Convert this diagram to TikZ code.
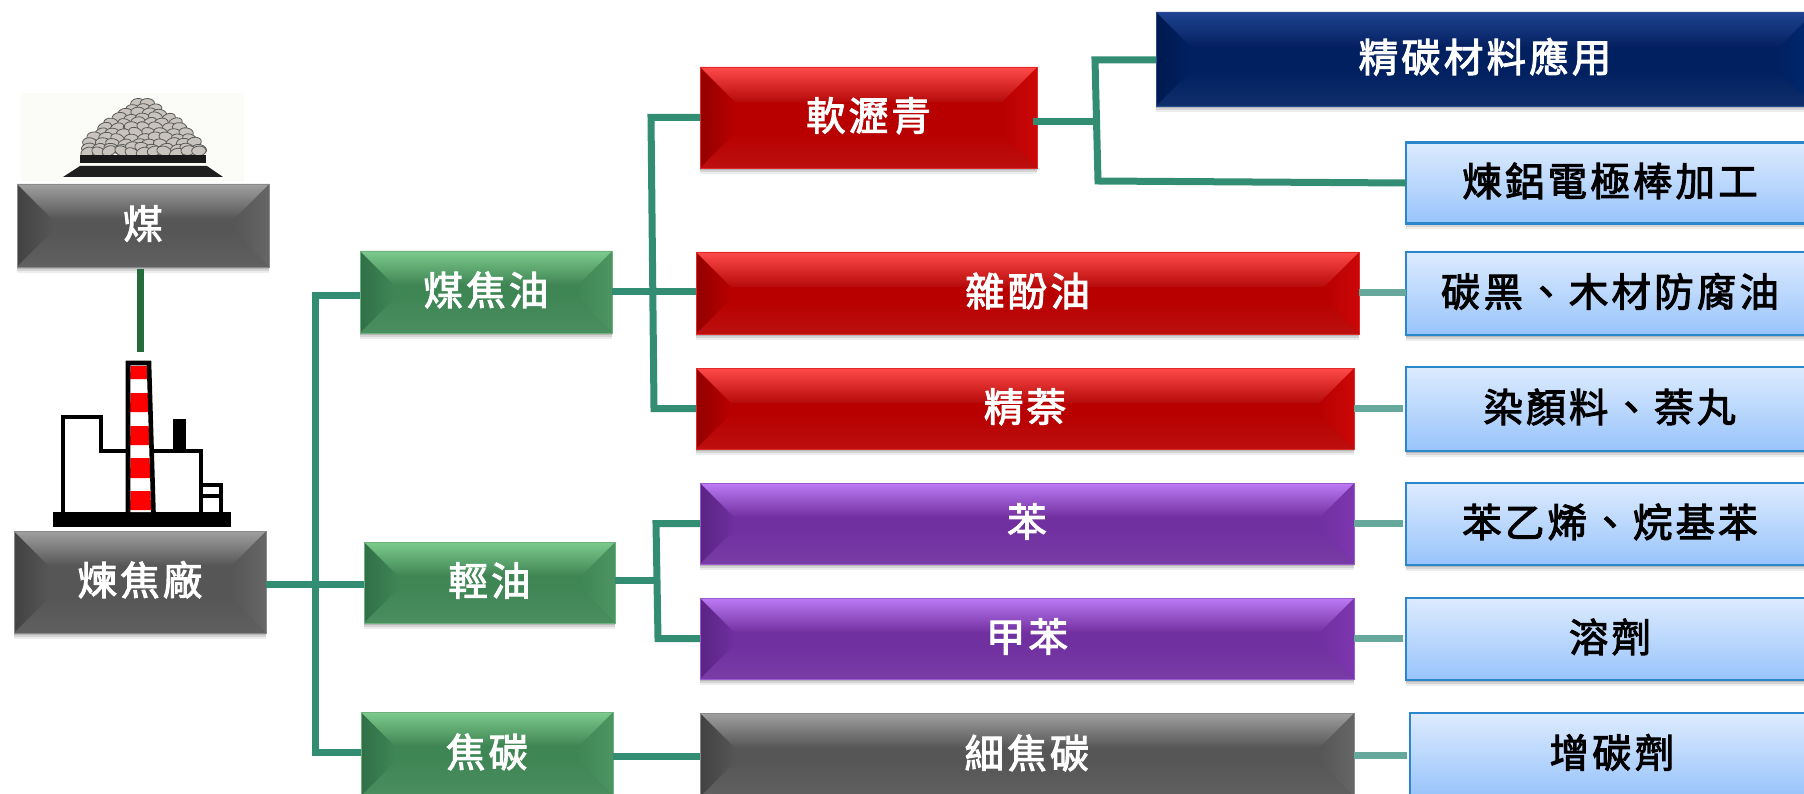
\documentclass[tikz,border=0pt]{standalone}
\usepackage{fontspec}
\usetikzlibrary{calc}
\newfontfamily\cjk[LetterSpace=8,FakeBold=2.5]{Noto Sans CJK TC}
\definecolor{connA}{HTML}{338D72}
\definecolor{connB}{HTML}{66A89C}
\definecolor{connC}{HTML}{266B3C}
\tikzset{
  softshadow/.style={
    preaction={fill=black,fill opacity=.07,draw=none,transform canvas={yshift=-6pt}},
    preaction={fill=black,fill opacity=.10,draw=none,transform canvas={yshift=-4pt}},
    preaction={fill=black,fill opacity=.14,draw=none,transform canvas={yshift=-2pt}}},
  labeltext/.style={font=\cjk\fontsize{39.5}{39.5}\selectfont, text height=30pt, text depth=4pt},
  panel/.style n args={6}{
    rectangle, inner sep=0pt, outer sep=0pt, draw=#6, line width=.9pt, fill=#3,
    text=white, labeltext, softshadow,
    path picture={
      \coordinate (NW) at (path picture bounding box.north west);
      \coordinate (NE) at (path picture bounding box.north east);
      \coordinate (SW) at (path picture bounding box.south west);
      \coordinate (SE) at (path picture bounding box.south east);
      \coordinate (iNW) at ($(NW)+(35pt,-35pt)$);
      \coordinate (iNE) at ($(NE)+(-35pt,-35pt)$);
      \coordinate (iSW) at ($(SW)+(35pt,35pt)$);
      \coordinate (iSE) at ($(SE)+(-35pt,35pt)$);
      \shade[left color=#4,right color=#3] (NW)--(iNW)--(iSW)--(SW)--cycle;
      \shade[left color=#3,right color=#5] (NE)--(iNE)--(iSE)--(SE)--cycle;
      \shade[top color=#1,bottom color=#2] (NW)--(NE)--(iNE)--(iNW)--cycle;
      \shade[top color=#3,bottom color=#3!94!white] (SW)--(SE)--(iSE)--(iSW)--cycle;
    }},
  greypanel/.style={panel={gTop}{gMid}{gBase}{gLeft}{gRight}{gEdge}},
  greenpanel/.style={panel={nTop}{nMid}{nBase}{nLeft}{nRight}{nEdge}},
  redpanel/.style={panel={rTop}{rMid}{rBase}{rLeft}{rRight}{rEdge}},
  purplepanel/.style={panel={pTop}{pMid}{pBase}{pLeft}{pRight}{pEdge}},
  navypanel/.style={panel={bTop}{bMid}{bBase}{bLeft}{bRight}{bEdge}},
  lightbox/.style={rectangle, inner sep=0pt, outer sep=0pt, draw=boxEdge, line width=2.2pt,
    top color=boxTop, bottom color=boxBot, text=black, softshadow, labeltext},
  conn/.style={line width=7pt, draw=connA, line join=miter},
  prod/.style={line width=7pt, draw=connB},
  feed/.style={line width=7pt, draw=connC},
  stone/.style={fill=stoneFill, draw=stoneEdge, line width=.8pt}
}
\definecolor{gTop}{HTML}{A0A0A0}\definecolor{gMid}{HTML}{565656}\definecolor{gBase}{HTML}{565656}
\definecolor{gLeft}{HTML}{424242}\definecolor{gRight}{HTML}{666666}\definecolor{gEdge}{HTML}{8A8A8A}
\definecolor{nTop}{HTML}{7DCB8D}\definecolor{nMid}{HTML}{3D8352}\definecolor{nBase}{HTML}{3F8655}
\definecolor{nLeft}{HTML}{317047}\definecolor{nRight}{HTML}{4C9562}\definecolor{nEdge}{HTML}{6DB27E}
\definecolor{rTop}{HTML}{FF4A4A}\definecolor{rMid}{HTML}{B60A0A}\definecolor{rBase}{HTML}{B80000}
\definecolor{rLeft}{HTML}{940000}\definecolor{rRight}{HTML}{CC0808}\definecolor{rEdge}{HTML}{E02A2A}
\definecolor{pTop}{HTML}{BC7BF5}\definecolor{pMid}{HTML}{702E9E}\definecolor{pBase}{HTML}{7030A0}
\definecolor{pLeft}{HTML}{5A2484}\definecolor{pRight}{HTML}{7D36B0}\definecolor{pEdge}{HTML}{9B5AD0}
\definecolor{bTop}{HTML}{1E4390}\definecolor{bMid}{HTML}{052060}\definecolor{bBase}{HTML}{002060}
\definecolor{bLeft}{HTML}{001A50}\definecolor{bRight}{HTML}{002A75}\definecolor{bEdge}{HTML}{2A4C90}
\definecolor{boxTop}{HTML}{DDEBFE}\definecolor{boxBot}{HTML}{98C4FB}\definecolor{boxEdge}{HTML}{2A87CC}
\definecolor{stoneFill}{HTML}{C8C4BD}\definecolor{stoneEdge}{HTML}{5A5A58}
\definecolor{pale}{HTML}{FBFCF8}
\begin{document}
\begin{tikzpicture}[x=1pt,y=-1pt]
\useasboundingbox (0,0) rectangle (1804,794);
\fill[white] (0,0) rectangle (1804,794);
% coal pile
\fill[pale] (21,93) rectangle (244,182);
\pgfmathsetseed{7}
\foreach \ry/\hw in {103/5,108/11,113/18,118/25,123/32,128/38,133/43,138/48,143/52,148/55,152/56}{
  \pgfmathsetmacro{\nn}{int(max(1,\hw/5.5))}
  \foreach \k in {0,...,\nn}{
    \pgfmathsetmacro{\sx}{143+(\k-\nn/2)*(2*\hw/max(1,\nn))+rand*1.5}
    \pgfmathsetmacro{\sy}{\ry+rand*1.5}
    \pgfmathsetmacro{\sa}{rand*25}
    \draw[stone,rotate around={\sa:(\sx,\sy)}] (\sx,\sy) ellipse [x radius=7.2pt,y radius=4.8pt];
  }
}
\fill[black!90] (80,155) rectangle (206,163);
\fill[black!88] (63,177) -- (223,177) -- (207,166) -- (80,166) -- cycle;
% factory
\fill[black] (53,512) rectangle (231,527);
\draw[black,line width=4.4pt,line join=miter] (63,513) -- (63,417) -- (101,417) -- (101,451) -- (127,451);
\draw[black,line width=4.4pt,line join=miter] (153,451) -- (201,451) -- (201,513);
\fill[black] (173,419) rectangle (186,452);
\draw[black,line width=3.8pt,line join=miter] (201,485) -- (221,485) -- (221,513);
\draw[black,line width=3.8pt] (201,496) -- (221,496);
\fill[white] (128.5,365) -- (148,365) -- (151,512) -- (129,512) -- cycle;
\foreach \ya/\yb in {366/379,393/412,426/445,458/478,491/510}{
  \fill[red] (130.5,\ya) -- ({147+(\ya-366)*.028},\ya) -- ({147+(\yb-366)*.028},\yb) -- (130,\yb) -- cycle;
}
\draw[black,line width=4.6pt,line join=miter] (128,513) -- (128,363) -- (149,363) -- (153.5,513);
% boxes
\node[greypanel,minimum width=252pt,minimum height=83pt] (coal) at (143,225.5) {煤};
\node[greypanel,minimum width=252pt,minimum height=102pt] (plant) at (140,582) {煉焦廠};
\node[greenpanel,minimum width=252pt,minimum height=82pt] (tar) at (486,292) {煤焦油};
\node[greenpanel,minimum width=251pt,minimum height=81pt] (light) at (489.5,582.5) {輕油};
\node[greenpanel,minimum width=252pt,minimum height=84pt] (coke) at (487,754) {焦碳};
\node[redpanel,minimum width=337pt,minimum height=101pt] (pitch) at (868.5,117.5) {軟瀝青};
\node[redpanel,minimum width=663pt,minimum height=82pt] (creo) at (1027.5,293) {雜酚油};
\node[redpanel,minimum width=658pt,minimum height=81pt] (naph) at (1025,408.5) {精萘};
\node[purplepanel,minimum width=654pt,minimum height=81pt] (benz) at (1027,523.5) {苯};
\node[purplepanel,minimum width=654pt,minimum height=81pt] (tol) at (1027,638.5) {甲苯};
\node[greypanel,minimum width=654pt,minimum height=84pt] (fine) at (1027,755) {細焦碳};
\node[navypanel,minimum width=658pt,minimum height=94pt] (carbon) at (1485,59) {精碳材料應用};
\node[lightbox,minimum width=408pt,minimum height=81pt] (alu) at (1610,183) {煉鋁電極棒加工};
\node[lightbox,minimum width=408pt,minimum height=83pt] (soot) at (1610,293.5) {碳黑、木材防腐油};
\node[lightbox,minimum width=408pt,minimum height=84pt] (dye) at (1610,409) {染顏料、萘丸};
\node[lightbox,minimum width=408pt,minimum height=82pt] (styr) at (1610,524) {苯乙烯、烷基苯};
\node[lightbox,minimum width=408pt,minimum height=82pt] (solv) at (1610,639) {溶劑};
\node[lightbox,minimum width=404pt,minimum height=83pt] (rec) at (1612,754.5) {增碳劑};
% junctions
\coordinate (busA) at (315,296);
\coordinate (busB) at (315,752);
\coordinate (busC) at (651,117.5);
\coordinate (busD) at (654,408.5);
\coordinate (busE) at (656,523.5);
\coordinate (busF) at (658,638.5);
\coordinate (busG) at (1095,60);
\coordinate (busH) at (1098,181);
% connectors
\draw[feed] ([yshift=-2pt,xshift=-3pt]coal.south) -- ++(0,83);
\draw[conn] ([yshift=-2pt]plant.east) -- ([yshift=-2pt]plant.east -| light.west);
\draw[conn] (tar.west |- busA) -- (busA) -- (busB) -- (coke.west |- busB);
\draw[conn] (tar.east) -- (tar.east -| creo.west);
\draw[conn] (pitch.west) -- (busC) -- (busD) -- (naph.west);
\draw[conn] ([yshift=2pt]light.east) -- ++(42,0);
\draw[conn] (benz.west) -- (busE) -- (busF) -- (tol.west);
\draw[conn] ([yshift=-2pt]coke.east) -- ([yshift=-2pt]coke.east -| fine.west);
\draw[conn] ([yshift=-4pt,xshift=-4pt]pitch.east) -- ++(60,0);
\draw[conn] (carbon.west |- busG) -- (busG) -- (busH) -- (alu.west);
\draw[prod] (creo.east) -- (creo.east -| soot.west);
\draw[prod] (naph.east) -- ([xshift=-3pt]naph.east -| dye.west);
\draw[prod] (benz.east) -- ([xshift=-3pt]benz.east -| styr.west);
\draw[prod] (tol.east) -- ([xshift=-3pt]tol.east -| solv.west);
\draw[prod] (fine.east) -- ([xshift=-3pt]fine.east -| rec.west);
\end{tikzpicture}
\end{document}
